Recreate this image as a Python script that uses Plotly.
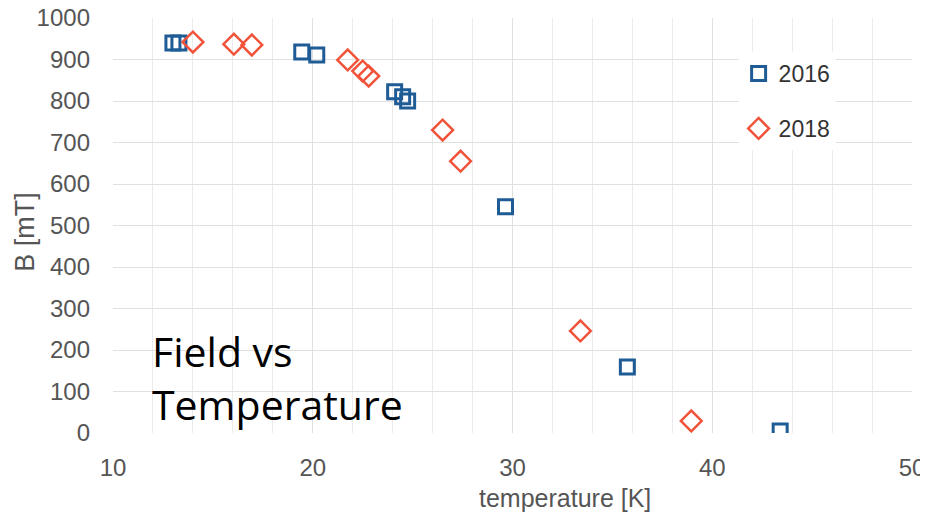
import plotly.graph_objects as go

# 2016 measurements
temp_2016 = [13.0, 13.3, 19.45, 20.2, 24.1, 24.5, 24.75, 29.65, 35.75, 43.4]
field_2016 = [940, 940, 918, 911, 822, 810, 800, 545, 159, 5]

# 2018 measurements
temp_2018 = [14.0, 16.05, 16.95, 21.75, 22.5, 22.8, 26.5, 27.4, 33.4, 38.95]
field_2018 = [942, 937, 935, 899, 872, 860, 730, 655, 246, 29]

x_ticks = [10, 20, 30, 40, 50]
y_ticks = [0, 100, 200, 300, 400, 500, 600, 700, 800, 900, 1000]

BLUE = '#1f5c96'
RED = '#f0533a'
GREY = '#555555'

fig = go.Figure()
fig.add_trace(go.Scatter(
    x=temp_2016, y=field_2016, mode='markers', name='2016', legendgroup='a',
    marker=dict(symbol='square-open', size=14, color=BLUE, line=dict(width=3, color=BLUE)),
))
fig.add_trace(go.Scatter(
    x=temp_2018, y=field_2018, mode='markers', name='2018', legendgroup='b',
    marker=dict(symbol='diamond-open', size=16, color=RED, line=dict(width=2.5, color=RED)),
))

# caption inside the plot
fig.add_annotation(
    text='Field vs<br>Temperature', xref='paper', yref='paper', x=0.046, y=0.27,
    xanchor='left', yanchor='top', align='left', showarrow=False,
    font=dict(family='Open Sans, Lato, sans-serif', size=41, color='#000000'),
)
# axis titles (x title sits right of centre in the original)
fig.add_annotation(
    text='temperature [K]', xref='paper', yref='paper', x=0.566, y=-0.157,
    xanchor='center', yanchor='middle', showarrow=False,
    font=dict(size=25, color=GREY),
)
fig.add_annotation(
    text='B [mT]', xref='paper', yref='paper', x=-0.110, y=0.485, textangle=-90,
    xanchor='center', yanchor='middle', showarrow=False,
    font=dict(size=27, color=GREY),
)

# page body adds ~8px offset, margins compensate
fig.update_layout(
    width=928, height=514,
    margin=dict(l=105, r=24, t=10, b=89),
    paper_bgcolor='white', plot_bgcolor='white',
    font=dict(family='Liberation Sans, Arial, sans-serif', color='#444444'),
    showlegend=True,
    legend=dict(
        x=0.783, y=0.918, xanchor='left', yanchor='top',
        bgcolor='white', font=dict(size=23, color='#333333'),
        tracegroupgap=22, traceorder='grouped', itemwidth=30,
    ),
)
fig.update_xaxes(
    range=[10, 50], tickvals=x_ticks, showline=False, zeroline=False, automargin=False,
    showgrid=True, gridcolor='#e0e0e0', gridwidth=1.2,
    minor=dict(dtick=2, showgrid=True, gridcolor='#ebebeb', gridwidth=1),
    tickfont=dict(size=24, color=GREY), ticks='', ticklabelstandoff=18,
    ticklabeloverflow='allow',
)
fig.update_yaxes(
    range=[0, 1000], tickvals=y_ticks, showline=False, zeroline=False, automargin=False,
    showgrid=True, gridcolor='#e0e0e0', gridwidth=1.2,
    tickfont=dict(size=24, color=GREY), ticks='', ticklabelstandoff=22,
    ticklabeloverflow='allow',
)

fig.write_html("out.html")
